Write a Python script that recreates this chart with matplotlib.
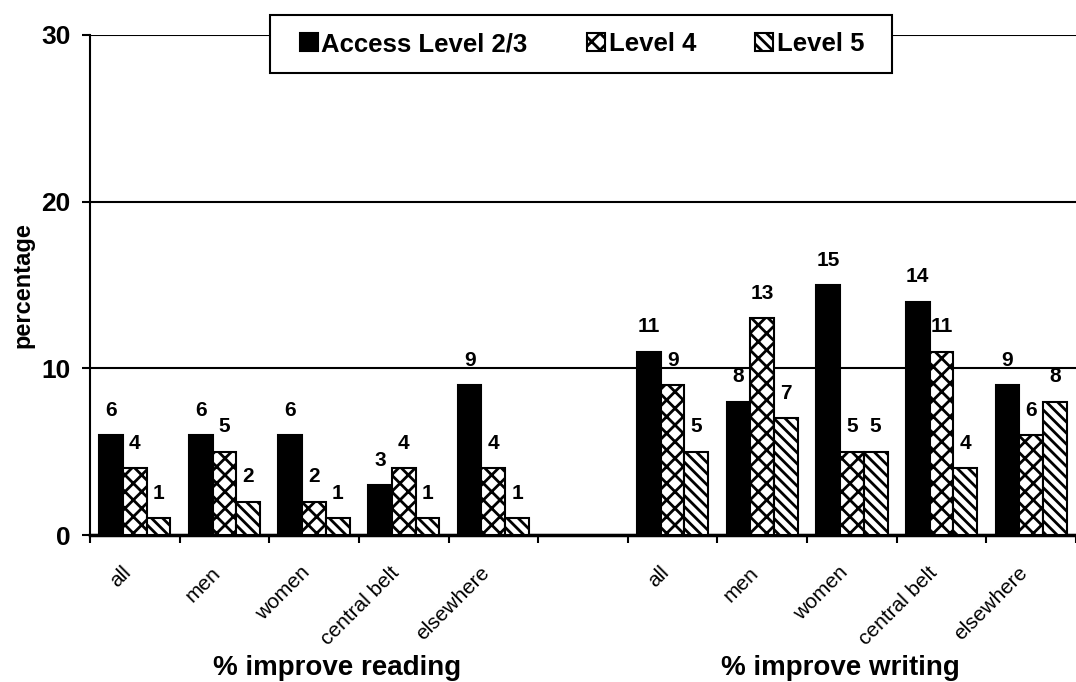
import matplotlib.pyplot as plt
import matplotlib.transforms as mtransforms
from matplotlib.patches import Rectangle
import numpy as np

plt.rcParams['font.family'] = ['Liberation Sans', 'DejaVu Sans']
plt.rcParams['font.weight'] = 'bold'
plt.rcParams['hatch.linewidth'] = 2.0

# data
categories = ['all', 'men', 'women', 'central belt', 'elsewhere']
level23 = [6, 6, 6, 3, 9, 11, 8, 15, 14, 9]
level4 = [4, 5, 2, 4, 4, 9, 13, 5, 11, 6]
level5 = [1, 2, 1, 1, 1, 5, 7, 5, 4, 8]
series_names = ['Access Level 2/3', 'Level 4', 'Level 5']
group_names = ['% improve reading', '% improve writing']

# positions: 5 slots, one empty slot, 5 slots
pos = np.array([0, 1, 2, 3, 4, 6, 7, 8, 9, 10])
labels = categories + categories

fig = plt.figure(figsize=(10.76, 6.82), dpi=100)
ax = fig.add_axes([0.0836, 0.2155, 0.9164, 0.7332])

w = 0.265
styles = [dict(color='black', hatch=None),
          dict(color='white', hatch='xx'),
          dict(color='white', hatch='\\\\\\')]
for i, (vals, st, name) in enumerate(zip([level23, level4, level5], styles, series_names)):
    x = pos + (i - 1) * w
    ax.bar(x, vals, w, color=st['color'], edgecolor='black', linewidth=1.5,
           hatch=st['hatch'], label=name, zorder=3)
    for xi, v in zip(x, vals):
        ax.annotate(str(v), (xi, v), xytext=(0, 11), textcoords='offset points',
                    ha='center', va='bottom', fontsize=15, fontweight='bold')

ax.set_xlim(-0.5, 10.5)
ax.set_ylim(0, 30)
ax.set_yticks([0, 10, 20, 30])
ax.tick_params(axis='y', labelsize=19, length=6, width=1.5, direction='out', pad=8)
ax.yaxis.grid(True, color='black', linewidth=1.5, zorder=0)
ax.set_axisbelow(True)

ax.set_xticks(np.arange(-0.5, 11, 1))
ax.set_xticklabels([])
ax.tick_params(axis='x', length=6, width=1.5, direction='out')
ax.set_xticks(pos, minor=True)
ax.set_xticklabels(labels, minor=True, rotation=45, ha='right', va='center',
                   rotation_mode='anchor', fontsize=15, fontweight='normal')
ax.tick_params(axis='x', which='minor', length=0, pad=25)
shift = mtransforms.ScaledTranslation(-7 / 100, 0, fig.dpi_scale_trans)
for lab in ax.get_xticklabels(minor=True):
    lab.set_transform(lab.get_transform() + shift)

for s in ['top', 'right']:
    ax.spines[s].set_visible(False)
ax.spines['left'].set_linewidth(1.5)
ax.spines['bottom'].set_linewidth(2.5)

ax.set_ylabel('percentage', fontsize=17, fontweight='bold', labelpad=5)

fig.text(337 / 1076, 1 - 675 / 682, group_names[0], ha='center', va='baseline',
         fontsize=20, fontweight='bold')
fig.text(840 / 1076, 1 - 675 / 682, group_names[1], ha='center', va='baseline',
         fontsize=20, fontweight='bold')

# legend frame
box = Rectangle((270 / 1076, 1 - 73 / 682), 622 / 1076, 58 / 682,
                transform=fig.transFigure, facecolor='white', edgecolor='black',
                linewidth=1.5, clip_on=False, zorder=9)
ax.add_patch(box)
leg = ax.legend(loc='center', bbox_to_anchor=(582 / 1076, 1 - 44 / 682),
                bbox_transform=fig.transFigure, ncol=3, fontsize=18.5,
                frameon=False, handlelength=0.7, handleheight=0.7,
                handletextpad=0.15, columnspacing=2.3, borderpad=0.3,
                borderaxespad=0)
leg.set_zorder(10)

fig.savefig('out.png', dpi=100)
